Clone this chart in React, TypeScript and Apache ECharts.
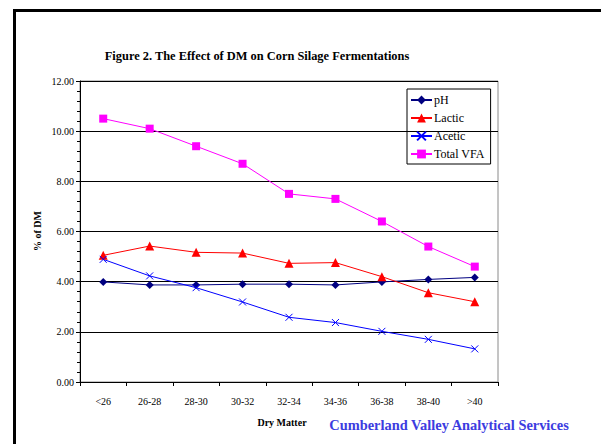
import React, { useEffect, useRef } from "react";
import * as echarts from "echarts";

const categories = ["<26", "26-28", "28-30", "30-32", "32-34", "34-36", "36-38", "38-40", ">40"];
const phValues = [3.99, 3.87, 3.87, 3.9, 3.9, 3.87, 3.99, 4.09, 4.17];
const lacticValues = [5.05, 5.42, 5.17, 5.14, 4.73, 4.76, 4.2, 3.56, 3.2];
const aceticValues = [4.89, 4.23, 3.76, 3.19, 2.58, 2.37, 2.02, 1.7, 1.32];
const totalVfaValues = [10.5, 10.1, 9.4, 8.7, 7.5, 7.3, 6.4, 5.4, 4.6];

const FONT = "'Liberation Serif', 'Times New Roman', serif";

export default function App() {
  const ref = useRef<HTMLDivElement>(null);
  useEffect(() => {
    if (!ref.current) return;
    document.documentElement.style.overflow = "hidden";
    document.body.style.overflow = "hidden";
    const chart = echarts.init(ref.current, undefined, { renderer: "svg" });
    const mk = (name: string, data: number[], color: string, symbol: string, size: number) => ({
      name,
      type: "line",
      data,
      symbol,
      symbolSize: size,
      showSymbol: true,
      lineStyle: { color, width: 1 },
      itemStyle: { color },
      emphasis: { disabled: true },
    });
    chart.setOption({
      animation: false,
      backgroundColor: "#ffffff",
      textStyle: { fontFamily: FONT },
      grid: {
        left: 80,
        top: 81,
        width: 418,
        height: 301,
        show: true,
        borderColor: "#8a8a8a",
        borderWidth: 1,
        backgroundColor: "transparent",
      },
      legend: {
        orient: "vertical",
        left: 407,
        top: 89,
        width: 82,
        padding: [5, 6, 4, 3],
        itemGap: 6,
        itemWidth: 21,
        itemHeight: 11,
        borderColor: "#000",
        borderWidth: 1,
        textStyle: { fontFamily: FONT, fontSize: 12, color: "#000", padding: [0, 0, 0, -3] },
        data: ["pH", "Lactic", "Acetic", "Total VFA"],
      },
      xAxis: {
        type: "category",
        data: categories,
        boundaryGap: true,
        axisLine: { lineStyle: { color: "#000", width: 1 } },
        axisTick: { show: true, length: 4, lineStyle: { color: "#000" } },
        axisLabel: { fontFamily: FONT, fontSize: 10, color: "#000", margin: 14 },
        splitLine: { show: false },
      },
      yAxis: {
        type: "value",
        min: 0,
        max: 12,
        interval: 2,
        axisLine: { show: true, lineStyle: { color: "#000", width: 1 } },
        axisTick: { show: true, length: 4, lineStyle: { color: "#000" } },
        minorTick: { show: true, splitNumber: 5, length: 3, lineStyle: { color: "#000" } },
        axisLabel: {
          fontFamily: FONT,
          fontSize: 10,
          color: "#000",
          margin: 6,
          formatter: (v: number) => v.toFixed(2),
        },
        splitLine: { show: true, lineStyle: { color: "#000", width: 1 } },
      },
      series: [
        mk("pH", phValues, "#000080", "diamond", 8),
        mk("Lactic", lacticValues, "#ff0000", "triangle", 9),
        {
          ...mk("Acetic", aceticValues, "#0000ff", "path://M0,0L10,10M10,0L0,10", 7),
          itemStyle: { color: "#0000ff", borderColor: "#0000ff", borderWidth: 1 },
        },
        mk("Total VFA", totalVfaValues, "#ff00ff", "rect", 8),
      ],
      graphic: [
        {
          type: "line",
          silent: true,
          shape: { x1: 14.5, y1: 10.5, x2: 640, y2: 10.5 },
          style: { stroke: "#000", lineWidth: 3 },
          z: 100,
        },
        {
          type: "line",
          silent: true,
          shape: { x1: 14.5, y1: 9, x2: 14.5, y2: 480 },
          style: { stroke: "#000", lineWidth: 3 },
          z: 100,
        },
        {
          type: "text",
          x: 257,
          y: 56,
          style: {
            text: "Figure 2. The Effect of DM on Corn Silage Fermentations",
            fontFamily: FONT,
            fontSize: 12.4,
            fontWeight: "bold",
            fill: "#000",
            align: "center",
            verticalAlign: "middle",
          },
        },
        {
          type: "text",
          x: 37,
          y: 231,
          rotation: Math.PI / 2,
          style: {
            text: "% of DM",
            fontFamily: FONT,
            fontSize: 10,
            fontWeight: "bold",
            fill: "#000",
            align: "center",
            verticalAlign: "middle",
          },
        },
        {
          type: "text",
          x: 282,
          y: 422,
          style: {
            text: "Dry Matter",
            fontFamily: FONT,
            fontSize: 10,
            fontWeight: "bold",
            fill: "#000",
            align: "center",
            verticalAlign: "middle",
          },
        },
        {
          type: "text",
          x: 449,
          y: 425,
          style: {
            text: "Cumberland Valley Analytical Services",
            fontFamily: FONT,
            fontSize: 14.4,
            fontWeight: "bold",
            fill: "#3c3ce0",
            align: "center",
            verticalAlign: "middle",
          },
        },
      ],
    });
    return () => chart.dispose();
  }, []);
  return (
    <div
      ref={ref}
      style={{ position: "fixed", left: 0, top: 0, width: 640, height: 480 }}
    />
  );
}
